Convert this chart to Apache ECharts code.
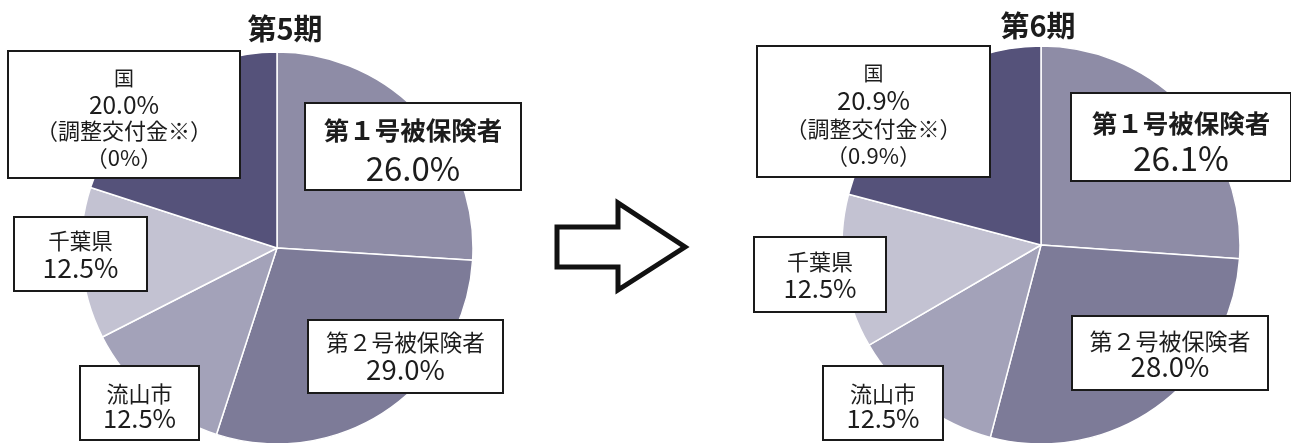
<!DOCTYPE html>
<html>
<head>
<meta charset="utf-8">
<script src="https://cdn.jsdelivr.net/npm/echarts@6/dist/echarts.min.js"></script>
<style>
html,body{margin:0;padding:0;background:#fff;}
#chart{width:1291px;height:443px;}
</style>
</head>
<body>
<div id="chart"></div>
<script>
// ---- data ----
const categories = ['第１号被保険者', '第２号被保険者', '流山市', '千葉県', '国'];
const period5Values = [26.0, 29.0, 12.5, 12.5, 20.0];
const period6Values = [26.1, 28.0, 12.5, 12.5, 20.9];
const periodTitles = ['第5期', '第6期'];
const adjustmentGrantName = '調整交付金※';
const adjustmentGrant = [0, 0.9];
const sliceColors = ['#8e8ca6', '#7d7b98', '#a3a2b9', '#c3c2d2', '#55527a'];

// ---- layout (label boxes: left, top, width, height, paddingTop, lineHeights, fontSizes, weights) ----
const FONT = '"Noto Sans CJK JP", "Noto Sans", sans-serif';
const boxLayout = [
  [
    {x: 306, y: 104, w: 214, h: 85, pt: 7, lh: [38, 38], fs: [25.5, 33], fw: ['bold', 'normal']},
    {x: 309, y: 321, w: 193, h: 71, pt: 7, lh: [28, 28], fs: [22.7, 27.5]},
    {x: 81, y: 367, w: 117, h: 72, pt: 15, lh: [24, 24], fs: [22, 25.5]},
    {x: 15, y: 218, w: 131, h: 72, pt: 9.5, lh: [27, 27], fs: [21.5, 26.5]},
    {x: 9, y: 52, w: 230, h: 125, pt: 12.75, lh: [26.5, 26.5, 26.5, 26.5], fs: [20, 24.5, 22, 22]}
  ],
  [
    {x: 1072, y: 94, w: 218, h: 86, pt: 11.5, lh: [35, 35], fs: [25.5, 33.5], fw: ['bold', 'normal']},
    {x: 1073, y: 317, w: 194, h: 72, pt: 11, lh: [26, 26], fs: [23, 27.5]},
    {x: 824, y: 367, w: 118, h: 72, pt: 15, lh: [24, 24], fs: [22, 25.5]},
    {x: 755, y: 238, w: 130, h: 73, pt: 11, lh: [26, 26], fs: [22, 25.5]},
    {x: 758, y: 47, w: 231, h: 129, pt: 12.25, lh: [27.6, 27.6, 27.6, 27.6], fs: [20, 25.5, 22, 22]}
  ]
];
const pieCenters = [[277, 248], [1041, 245]];
const pieRadius = [196, 199];
const titlePos = [[280, 9], [1033, 6]];

function fmtPct(v) { return v.toFixed(1) + '%'; }
function fmtGrant(v) { return (v === 0 ? '0' : v.toFixed(1)) + '%'; }

function richFor(b) {
  const keys = ['n', 'v', 'a', 'b'];
  const rich = {};
  b.fs.forEach((fs, i) => {
    rich[keys[i]] = {
      fontSize: fs, lineHeight: b.lh[i], align: 'center', fontFamily: FONT,
      color: '#1c1c1c', fontWeight: (b.fw && b.fw[i]) || 'normal'
    };
  });
  return rich;
}

function buildData(values, s) {
  return categories.map((name, i) => {
    const b = boxLayout[s][i];
    const total = b.lh.reduce((a, c) => a + c, 0);
    return {
      name: name,
      value: values[i],
      itemStyle: {color: sliceColors[i]},
      label: {
        width: b.w,
        padding: [b.pt, 0, Math.max(0, b.h - b.pt - total), 0],
        rich: richFor(b)
      }
    };
  });
}

function labelFormatter(p) {
  const v = fmtPct(p.value);
  if (p.dataIndex === 4) {
    return '{n|' + p.name + '}\n{v|' + v + '}\n{a|（' + adjustmentGrantName + '）}\n{b|（' + fmtGrant(adjustmentGrant[p.seriesIndex]) + '）}';
  }
  return '{n|' + p.name + '}\n{v|' + v + '}';
}

function makeSeries(values, s) {
  return {
    type: 'pie',
    center: pieCenters[s],
    radius: pieRadius[s],
    startAngle: 90,
    clockwise: true,
    avoidLabelOverlap: false,
    animation: false,
    silent: true,
    itemStyle: {borderColor: '#ffffff', borderWidth: 1.5},
    label: {
      show: true,
      position: 'inside',
      formatter: labelFormatter,
      backgroundColor: '#ffffff',
      borderColor: '#1a1a1a',
      borderWidth: 2,
      color: '#1c1c1c',
      fontFamily: FONT,
      overflow: 'none'
    },
    labelLine: {show: false},
    labelLayout: function (params) {
      const b = boxLayout[params.seriesIndex][params.dataIndex];
      return {x: b.x + b.w / 2, y: b.y + b.h / 2, align: 'center', verticalAlign: 'middle'};
    },
    data: buildData(values, s)
  };
}

const chart = echarts.init(document.getElementById('chart'), null, {renderer: 'canvas'});
chart.setOption({
  backgroundColor: '#ffffff',
  animation: false,
  textStyle: {fontFamily: FONT},
  title: periodTitles.map((t, i) => ({
    text: t,
    left: titlePos[i][0],
    top: titlePos[i][1],
    textAlign: 'center',
    textStyle: {fontSize: 29, fontWeight: 'bold', color: '#1c1c1c', fontFamily: FONT}
  })),
  graphic: [{
    type: 'polygon',
    shape: {points: [[557, 227], [618, 227], [618, 203], [685, 247], [618, 290], [618, 267], [557, 267]]},
    style: {fill: '#ffffff', stroke: '#111111', lineWidth: 5, lineJoin: 'miter'}
  }],
  series: [makeSeries(period5Values, 0), makeSeries(period6Values, 1)]
});
</script>
</body>
</html>
